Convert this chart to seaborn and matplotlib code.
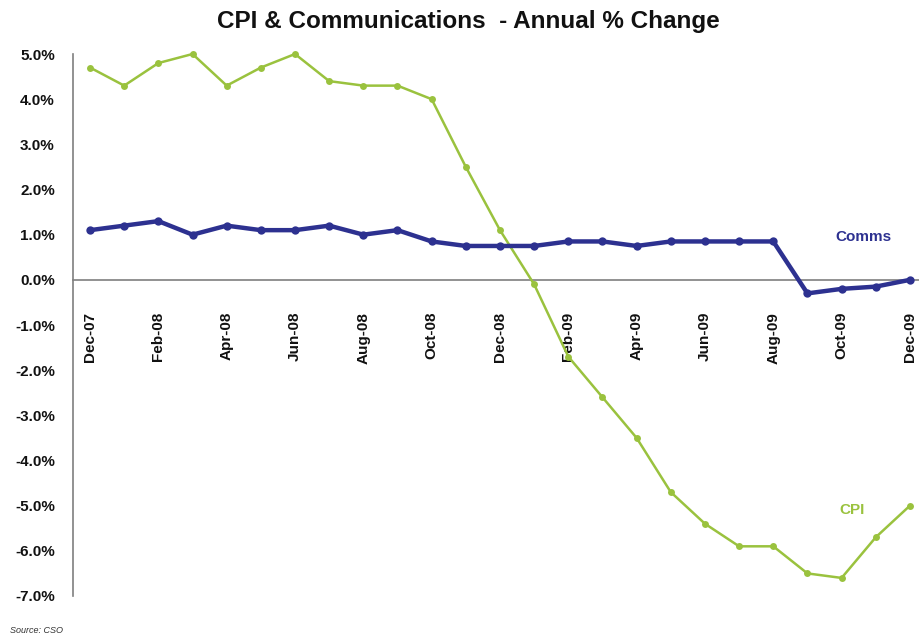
import numpy as np
import pandas as pd
import matplotlib
matplotlib.use("Agg")
import matplotlib.pyplot as plt
import seaborn as sns
from matplotlib.ticker import FixedLocator, FuncFormatter

# Monthly series, Dec-07 .. Dec-09
months = ["Dec-07", "Jan-08", "Feb-08", "Mar-08", "Apr-08", "May-08", "Jun-08",
          "Jul-08", "Aug-08", "Sep-08", "Oct-08", "Nov-08", "Dec-08", "Jan-09",
          "Feb-09", "Mar-09", "Apr-09", "May-09", "Jun-09", "Jul-09", "Aug-09",
          "Sep-09", "Oct-09", "Nov-09", "Dec-09"]
cpi = [4.7, 4.3, 4.8, 5.0, 4.3, 4.7, 5.0, 4.4, 4.3, 4.3, 4.0, 2.5, 1.1, -0.1,
       -1.7, -2.6, -3.5, -4.7, -5.4, -5.9, -5.9, -6.5, -6.6, -5.7, -5.0]
comms = [1.1, 1.2, 1.3, 1.0, 1.2, 1.1, 1.1, 1.2, 1.0, 1.1, 0.85, 0.75, 0.75,
         0.75, 0.85, 0.85, 0.75, 0.85, 0.85, 0.85, 0.85, -0.3, -0.2, -0.15, 0.0]
y_ticks = [5, 4, 3, 2, 1, 0, -1, -2, -3, -4, -5, -6, -7]

GREEN = "#9AC23E"
BLUE = "#2D3190"

sns.set_style("white")
plt.rcParams["font.family"] = ["Liberation Sans", "DejaVu Sans"]

df = pd.DataFrame({"pos": np.arange(len(months)), "month": months,
                   "CPI": cpi, "Comms": comms})

fig = plt.figure(figsize=(9.19, 6.43), dpi=100)
ax = fig.add_axes([0.0794, 0.0731, 0.9293, 0.8429])

sns.lineplot(data=df, x="pos", y="CPI", ax=ax, color=GREEN, linewidth=1.8,
             marker="o", markersize=5, markeredgewidth=0, zorder=3, clip_on=False)
sns.lineplot(data=df, x="pos", y="Comms", ax=ax, color=BLUE, linewidth=3.2,
             marker="o", markersize=6, markeredgewidth=0, zorder=4, clip_on=False)

ax.set_xlim(-0.5, len(months) - 0.5)
ax.set_ylim(-7, 5)

# Axes styling: value axis on the left, category axis through zero
for side in ("top", "right"):
    ax.spines[side].set_visible(False)
ax.spines["bottom"].set_position(("data", 0))
ax.spines["bottom"].set_color("#7f7f7f")
ax.spines["left"].set_color("#7f7f7f")
ax.spines["bottom"].set_linewidth(1.2)
ax.spines["left"].set_linewidth(1.2)

ax.yaxis.set_major_locator(FixedLocator(y_ticks))
ax.yaxis.set_major_formatter(FuncFormatter(lambda v, p: f"{v:.1f}%"))
ax.tick_params(axis="y", which="major", direction="out", length=5, width=1,
               color="#7f7f7f", pad=8, labelsize=11, labelcolor="#111111")
for lab in ax.get_yticklabels():
    lab.set_fontweight("bold")

# Tick marks between categories, labels on every second month
ax.xaxis.set_major_locator(FixedLocator(np.arange(-0.5, len(months), 2)))
ax.xaxis.set_major_formatter(FuncFormatter(lambda v, p: ""))
ax.tick_params(axis="x", which="major", direction="out", length=5, width=1,
               color="#7f7f7f")
label_pos = df["pos"].iloc[::2].tolist()
label_txt = df["month"].iloc[::2].tolist()
ax.xaxis.set_minor_locator(FixedLocator(label_pos))
ax.xaxis.set_minor_formatter(FuncFormatter(lambda v, p: label_txt[label_pos.index(int(round(v)))]))
ax.tick_params(axis="x", which="minor", length=0, pad=23, labelsize=11,
               labelrotation=90, labelcolor="#111111")
for lab in ax.xaxis.get_minorticklabels():
    lab.set_fontweight("bold")
    lab.set_verticalalignment("top")

ax.set_xlabel("")
ax.set_ylabel("")
ax.grid(False)

# Series labels
ax.text(22.65, 0.95, "Comms", color=BLUE, fontsize=11, fontweight="bold",
        ha="center", va="center")
ax.text(22.3, -5.1, "CPI", color=GREEN, fontsize=11, fontweight="bold",
        ha="center", va="center")

fig.text(0.51, 0.966, "CPI & Communications  - Annual % Change", ha="center",
         va="center", fontsize=17.5, fontweight="bold", color="#111111")
fig.text(0.011, 0.012, "Source: CSO", ha="left", va="bottom", fontsize=6.5,
         style="italic", color="#333333")

fig.savefig("out.png", dpi=100)
